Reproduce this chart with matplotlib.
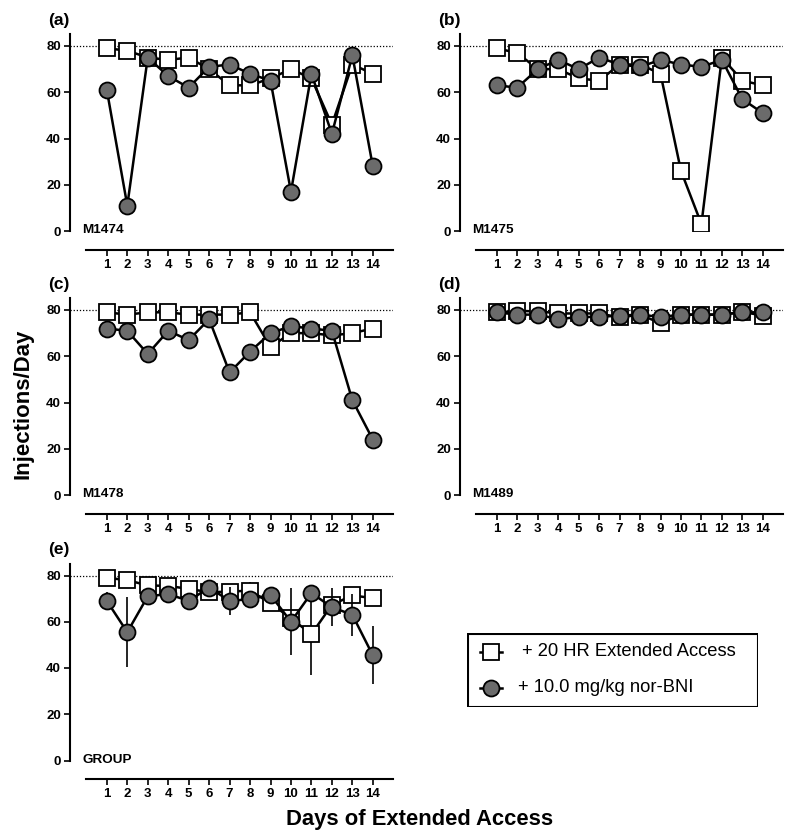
import matplotlib
matplotlib.use("Agg")
import matplotlib.pyplot as plt
from matplotlib.lines import Line2D
from matplotlib.patches import Rectangle

plt.rcParams['font.family'] = ['Liberation Sans', 'DejaVu Sans']
plt.rcParams['font.weight'] = 'bold'

days = list(range(1, 15))

# (a) M1474
a_ext = [79, 78, 75, 74, 75, 70, 63, 63, 66, 70, 66, 46, 72, 68]
a_nor = [61, 11, 75, 67, 62, 71, 72, 68, 65, 17, 68, 42, 76, 28]
# (b) M1475
b_ext = [79, 77, 70, 70, 66, 65, 72, 72, 68, 26, 3, 75, 65, 63]
b_nor = [63, 62, 70, 74, 70, 75, 72, 71, 74, 72, 71, 74, 57, 51]
# (c) M1478
c_ext = [79, 78, 79, 79, 78, 78, 78, 79, 64, 70, 70, 69, 70, 72]
c_nor = [72, 71, 61, 71, 67, 76, 53, 62, 70, 73, 72, 71, 41, 24]
# (d) M1489
d_ext = [79, 79.5, 79.5, 78.5, 78.5, 78.5, 76.8, 78, 74.3, 78, 78, 78, 79.2, 77.6]
d_nor = [79, 78, 78, 76, 77, 77, 77.6, 78, 77, 78, 78, 78, 79, 79]
# (e) GROUP mean +/- SEM
e_ext = [79, 78, 75.7, 75.5, 74.2, 72.8, 73, 73.5, 68, 61.5, 54.6, 67.3, 71.4, 70.2]
e_ext_sem = [1, 1, 1.5, 1.5, 2, 2.5, 3, 3.5, 2, 2, 17.6, 2, 2.5, 3]
e_nor = [69, 55.5, 71, 72, 69, 74.8, 69, 69.8, 71.6, 60, 72.4, 66.3, 63, 45.5]
e_nor_sem = [4, 15, 3, 2, 3, 2, 6, 3, 2, 14.5, 3, 8.3, 9, 12.6]

panels = [
    ("(a)", "M1474", a_ext, a_nor, None, None),
    ("(b)", "M1475", b_ext, b_nor, None, None),
    ("(c)", "M1478", c_ext, c_nor, None, None),
    ("(d)", "M1489", d_ext, d_nor, None, None),
    ("(e)", "GROUP", e_ext, e_nor, e_ext_sem, e_nor_sem),
]

W, H = 800, 839
fig = plt.figure(figsize=(8, 8.39), dpi=100)

lefts = [70, 460, 70, 460, 70]
zeros = [231, 231, 495, 495, 760.5]
px_x = 20.46
px_y = 2.3125
xlo, xhi = -0.8, 15.0
ylo, yhi = 0, 85

gray = '#6b6b6b'

for (lab, name, ext, nor, ext_sem, nor_sem), l, z in zip(panels, lefts, zeros):
    w = (xhi - xlo) * px_x
    h = (yhi - ylo) * px_y
    ax = fig.add_axes([l / W, (H - z) / H, w / W, h / H])
    ax.set_xlim(xlo, xhi)
    ax.set_ylim(ylo, yhi)
    ax.axhline(80, xmin=0, xmax=1, color='black', lw=0.9, ls=(0, (1, 1.5)), zorder=1)

    if ext_sem is None:
        ax.plot(days, ext, '-s', color='black', lw=1.8, ms=11, mfc='white',
                mec='black', mew=1.3, zorder=3)
        ax.plot(days, nor, '-o', color='black', lw=1.8, ms=11.5, mfc=gray,
                mec='black', mew=1.3, zorder=4)
    else:
        ax.errorbar(days, ext, yerr=ext_sem, fmt='-s', color='black', lw=1.8,
                    ms=11, mfc='white', mec='black', mew=1.3, elinewidth=1.2,
                    capsize=0, zorder=3)
        ax.errorbar(days, nor, yerr=nor_sem, fmt='-o', color='black', lw=1.8,
                    ms=11.5, mfc=gray, mec='black', mew=1.3, elinewidth=1.2,
                    capsize=0, zorder=4)

    for s in ['top', 'right']:
        ax.spines[s].set_visible(False)
    ax.spines['left'].set_linewidth(1.5)
    ax.spines['bottom'].set_linewidth(1.5)
    ax.spines['bottom'].set_position(('outward', 13.5))
    ax.spines['bottom'].set_bounds(0, 15)
    ax.set_xticks(days)
    ax.set_yticks([0, 20, 40, 60, 80])
    ax.tick_params(axis='both', labelsize=9.5, width=1.2, length=4.5, pad=2)
    for t in ax.get_xticklabels() + ax.get_yticklabels():
        t.set_fontweight('bold')
    ax.text(-0.2, 0.3, name, fontsize=9.7, fontweight='bold', va='center', ha='left')
    fig.text((l - 22) / W, (H - (z - 211)) / H, lab, fontsize=12.5, fontweight='bold',
             va='center', ha='left')

fig.text(23 / W, (H - 404) / H, 'Injections/Day', rotation=90, fontsize=16,
         fontweight='bold', va='center', ha='center')
fig.text(420 / W, (H - 819) / H, 'Days of Extended Access', fontsize=15.8,
         fontweight='bold', va='center', ha='center')

# legend box
lx0, lx1, ly0, ly1 = 467, 758, 633, 707
lax = fig.add_axes([lx0 / W, (H - ly1) / H, (lx1 - lx0) / W, (ly1 - ly0) / H])
lax.set_xlim(lx0, lx1)
lax.set_ylim(ly1, ly0)
lax.axis('off')
lax.add_patch(Rectangle((lx0 + 0.5, ly0 + 0.5), lx1 - lx0 - 1, ly1 - ly0 - 1,
                        fill=False, lw=1.5, ec='black'))
lax.add_line(Line2D([480, 502], [652, 652], color='black', lw=1.8))
lax.plot([491], [652], 's', ms=11, mfc='white', mec='black', mew=1.3)
lax.add_line(Line2D([480, 502], [688, 688], color='black', lw=1.8))
lax.plot([491], [688], 'o', ms=11.5, mfc=gray, mec='black', mew=1.3)
lax.text(522, 652, '+ 20 HR Extended Access', fontsize=13.2, fontweight='normal', va='center')
lax.text(518, 688, '+ 10.0 mg/kg nor-BNI', fontsize=13.2, fontweight='normal', va='center')

fig.savefig('out.png', dpi=100)
